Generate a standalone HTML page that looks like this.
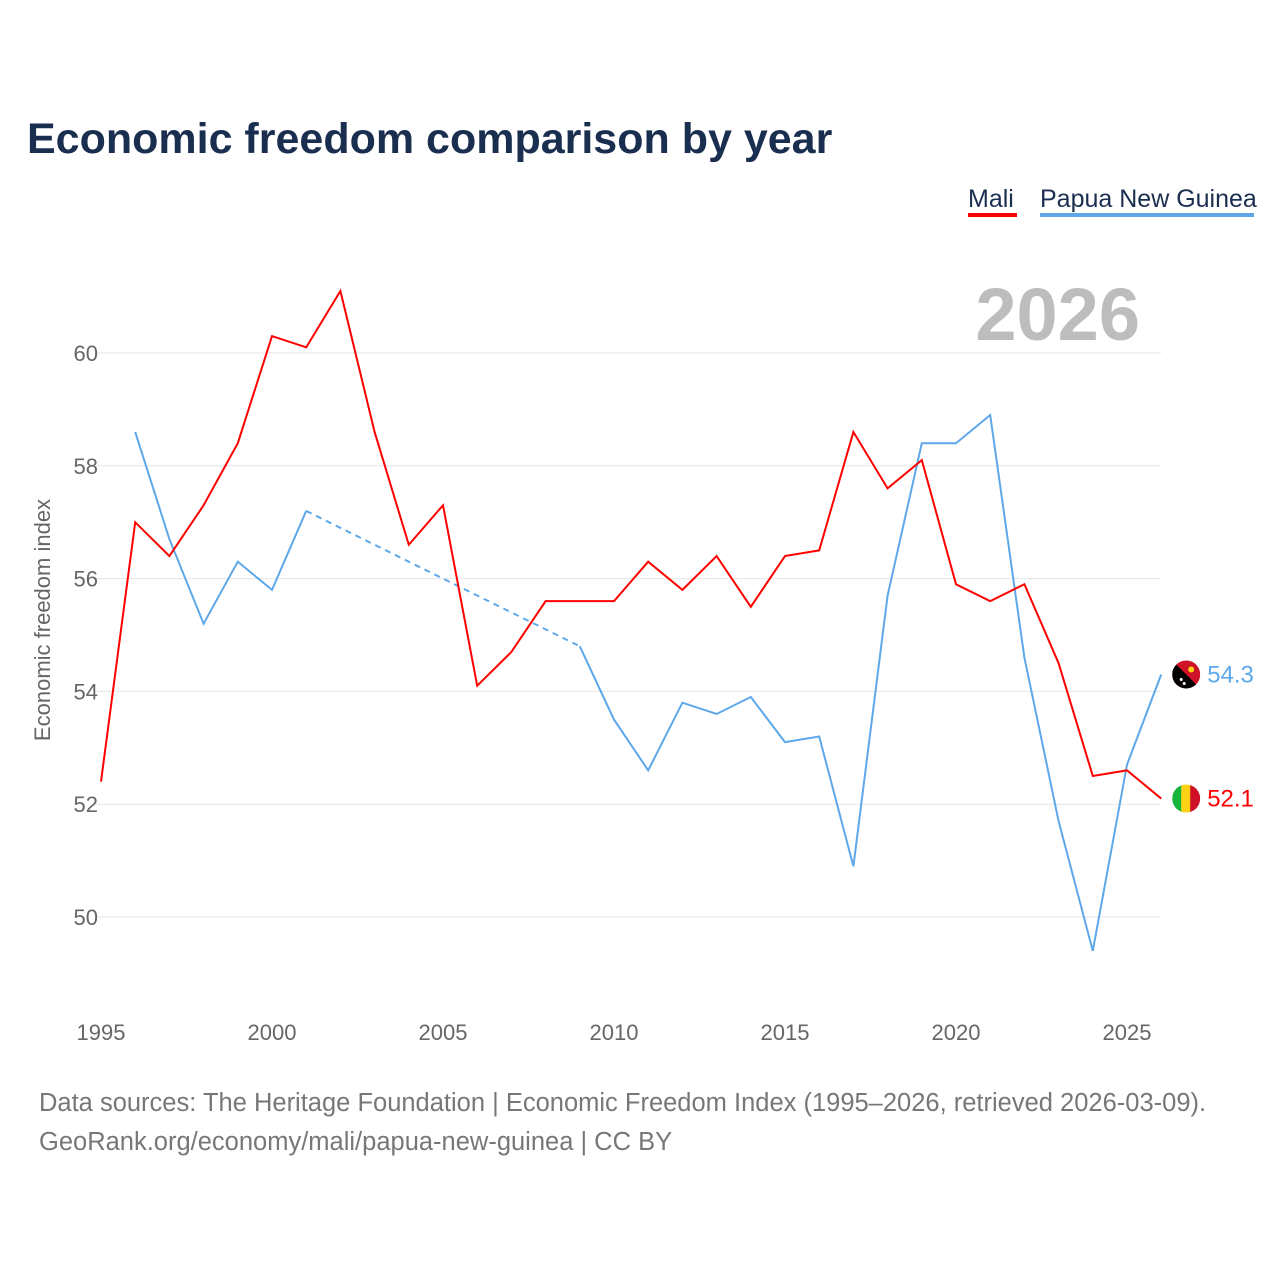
<!DOCTYPE html>
<html><head><meta charset="utf-8"><style>
body{margin:0;background:#fff;font-family:"Liberation Sans",sans-serif}
</style></head><body>
<svg width="1280" height="1280" xmlns="http://www.w3.org/2000/svg" id="chart">
<defs>
<clipPath id="cm"><circle cx="0" cy="0" r="14"/></clipPath>
</defs>
<text x="27" y="153" font-size="43" font-weight="bold" fill="#1a2e4f">Economic freedom comparison by year</text>
<g><text x="968" y="207" font-size="25" fill="#1a2e4f">Mali</text><rect x="968" y="213" width="49" height="4" fill="#ff0000"/></g>
<g><text x="1040" y="207" font-size="25" fill="#1a2e4f">Papua New Guinea</text><rect x="1040" y="213" width="214" height="4" fill="#5ea8ea"/></g>
<text x="1140" y="340" font-size="74" font-weight="bold" fill="#bdbdbd" text-anchor="end">2026</text>
<text transform="translate(50,620) rotate(-90)" font-size="22" fill="#666" text-anchor="middle">Economic freedom index</text>
<g id="grid"></g><g id="xt"></g><g id="lines"></g>
<g font-size="25.5" fill="#777">
<text x="39" y="1111">Data sources: The Heritage Foundation | Economic Freedom Index (1995–2026, retrieved 2026-03-09).</text>
<text x="39" y="1150">GeoRank.org/economy/mali/papua-new-guinea | CC BY</text></g>
</svg>
<script>
const years=[1995,1996,1997,1998,1999,2000,2001,2002,2003,2004,2005,2006,2007,2008,2009,2010,2011,2012,2013,2014,2015,2016,2017,2018,2019,2020,2021,2022,2023,2024,2025,2026];
const mali=[52.4,57.0,56.4,57.3,58.4,60.3,60.1,61.1,58.6,56.6,57.3,54.1,54.7,55.6,55.6,55.6,56.3,55.8,56.4,55.5,56.4,56.5,58.6,57.6,58.1,55.9,55.6,55.9,54.5,52.5,52.6,52.1];
const png=[null,58.6,56.7,55.2,56.3,55.8,57.2,null,null,null,null,null,null,null,54.8,53.5,52.6,53.8,53.6,53.9,53.1,53.2,50.9,55.7,58.4,58.4,58.9,54.6,51.7,49.4,52.7,54.3];
const yTicks=[50,52,54,56,58,60];
const xTicks=[1995,2000,2005,2010,2015,2020,2025];
const NS="http://www.w3.org/2000/svg";
const X=y=>101+(y-1995)*34.2, Y=v=>353+(60-v)*56.4;
function mk(t,a,p){const e=document.createElementNS(NS,t);for(const k in a)e.setAttribute(k,a[k]);(typeof p==='string'?document.getElementById(p):p).appendChild(e);return e;}
yTicks.forEach(v=>{const l=mk('line',{x1:95,x2:1161,y1:Y(v),y2:Y(v),stroke:'#e6e6e6'},'grid');


const t=mk('text',{x:98,y:Y(v)+8,'font-size':22,fill:'#666','text-anchor':'end'},'grid');t.textContent=v;

});
xTicks.forEach(v=>{const t=mk('text',{x:X(v),y:1040,'font-size':22,fill:'#666','text-anchor':'middle'},'xt');t.textContent=v;

});
function flag(g,name){
 if(name=='mali'){mk('rect',{x:-14,y:-14,width:10,height:28,fill:'#14b53a'},g);mk('rect',{x:-5,y:-14,width:10,height:28,fill:'#fcd116'},g);mk('rect',{x:4,y:-14,width:10,height:28,fill:'#ce1126'},g);}
 else{mk('rect',{x:-14,y:-14,width:28,height:28,fill:'#ce1126'},g);mk('path',{d:'M-14,-14L14,14L-14,14Z',fill:'#000'},g);mk('circle',{cx:5,cy:-5,r:3,fill:'#fcd116'},g);mk('circle',{cx:-5,cy:5,r:1.5,fill:'#fff'},g);mk('circle',{cx:-2,cy:9,r:1.5,fill:'#fff'},g);}
}
function draw(arr,col,name){let segs=[],cur=[],last=null;
arr.forEach((v,i)=>{if(v==null){if(cur.length){segs.push(cur);cur=[];}}else{if(!cur.length&&last!=null){const d=mk('path',{d:`M${X(years[last])},${Y(arr[last])}L${X(years[i])},${Y(v)}`,stroke:col,'stroke-width':2,fill:'none','stroke-dasharray':'6,5'},'lines');

}
cur.push([X(years[i]),Y(v)]);last=i;}});
if(cur.length)segs.push(cur);
segs.forEach(s=>{const p=mk('path',{d:'M'+s.map(q=>q.join(',')).join('L'),stroke:col,'stroke-width':2,fill:'none'},'lines');

});
const lv=arr[arr.length-1],cx=X(2026)+25,cy=Y(lv);
const g=mk('g',{transform:`translate(${cx},${cy})`,'clip-path':'url(#cm)'},'lines');


flag(g,name);
const t=mk('text',{x:cx+21,y:cy+8,'font-size':24,fill:col},'lines');t.textContent=lv.toFixed(1);

}
draw(png,'#5ea8ea','png');draw(mali,'#ff0000','mali');
</script></body></html>
